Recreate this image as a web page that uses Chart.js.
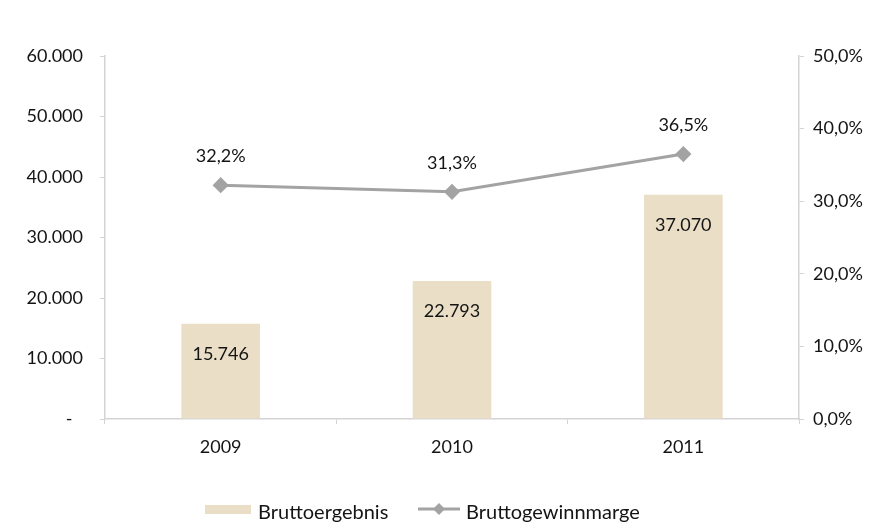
<!DOCTYPE html>
<html>
<head>
<meta charset="utf-8">
<script src="https://cdn.jsdelivr.net/npm/chart.js@4"></script>
<style>
  html, body { margin: 0; padding: 0; background: #ffffff; }
  #wrap { width: 872px; height: 523px; }
</style>
</head>
<body>
<div id="wrap"><canvas id="c" width="872" height="523"></canvas></div>
<script>
const categories = ['2009', '2010', '2011'];
const bruttoergebnis = [15746, 22793, 37070];
const bruttogewinnmarge = [0.322, 0.313, 0.365];
const leftTicks = [0, 10000, 20000, 30000, 40000, 50000, 60000];
const rightTicks = [0, 0.1, 0.2, 0.3, 0.4, 0.5];
const seriesNames = ['Bruttoergebnis', 'Bruttogewinnmarge'];

const FONT = 'Lato, "Open Sans", sans-serif';
const TEXT = '#141414';
const BAR = '#eadfc6';
const LINE = '#a3a3a3';
const AXIS = '#d4d4d4';

function fmtInt(v) {
  if (v === 0) return '-\u2007';
  return Math.round(v).toString().replace(/\B(?=(\d{3})+(?!\d))/g, '.');
}
function fmtPct(v) {
  return (v * 100).toFixed(1).replace('.', ',') + '%';
}

const labelPlugin = {
  id: 'labels',
  afterDatasetsDraw(chart) {
    const ctx = chart.ctx;
    ctx.save();
    ctx.font = '18px ' + FONT;
    ctx.fillStyle = TEXT;
    ctx.textAlign = 'center';
    ctx.textBaseline = 'middle';
    chart.getDatasetMeta(1).data.forEach((el, i) => {
      ctx.fillText(fmtInt(bruttoergebnis[i]), el.x, el.y + 30);
    });
    chart.getDatasetMeta(0).data.forEach((el, i) => {
      ctx.fillText(fmtPct(bruttogewinnmarge[i]), el.x, el.y - 29);
    });
    // legend
    const ly = 509;
    ctx.font = '20px ' + FONT;
    ctx.fillStyle = BAR;
    ctx.fillRect(205, ly - 4, 46, 9);
    ctx.fillStyle = TEXT;
    ctx.textAlign = 'left';
    ctx.fillText(seriesNames[0], 258, ly + 4);
    ctx.strokeStyle = LINE;
    ctx.lineWidth = 3;
    ctx.beginPath();
    ctx.moveTo(418, ly);
    ctx.lineTo(460, ly);
    ctx.stroke();
    ctx.fillStyle = LINE;
    ctx.beginPath();
    ctx.moveTo(439, ly - 6);
    ctx.lineTo(445, ly);
    ctx.lineTo(439, ly + 6);
    ctx.lineTo(433, ly);
    ctx.closePath();
    ctx.fill();
    ctx.fillStyle = TEXT;
    ctx.fillText(seriesNames[1], 466, ly + 4);
    ctx.restore();
  }
};

new Chart(document.getElementById('c'), {
  data: {
    labels: categories,
    datasets: [
      {
        type: 'line',
        label: seriesNames[1],
        data: bruttogewinnmarge,
        yAxisID: 'y1',
        borderColor: LINE,
        backgroundColor: LINE,
        borderWidth: 3,
        pointStyle: 'rectRot',
        pointRadius: 6,
        pointHoverRadius: 6,
        pointBackgroundColor: LINE,
        pointBorderColor: LINE,
        tension: 0,
        order: 0
      },
      {
        type: 'bar',
        label: seriesNames[0],
        data: bruttoergebnis,
        yAxisID: 'y',
        backgroundColor: BAR,
        borderWidth: 0,
        categoryPercentage: 1,
        barPercentage: 0.34,
        order: 1
      }
    ]
  },
  options: {
    responsive: false,
    animation: false,
    events: [],
    layout: { padding: { top: 56, bottom: 0, left: 0, right: 0 } },
    plugins: {
      legend: { display: false },
      tooltip: { enabled: false }
    },
    scales: {
      x: {
        type: 'category',
        offset: true,
        grid: { display: true, drawOnChartArea: false, drawTicks: true, tickLength: 5, color: AXIS, offset: true },
        border: { display: true, color: AXIS, width: 1.5 },
        ticks: { color: TEXT, font: { family: FONT, size: 18 }, padding: 12, maxRotation: 0 },
        afterFit(s) { s.height = 104; }
      },
      y: {
        position: 'left',
        min: 0, max: 60000,
        afterBuildTicks(s) { s.ticks = leftTicks.map(v => ({ value: v })); },
        grid: { drawOnChartArea: false, drawTicks: true, tickLength: 5, color: AXIS },
        border: { display: true, color: AXIS, width: 1.5 },
        ticks: { color: TEXT, font: { family: FONT, size: 18 }, padding: 17, callback: v => fmtInt(v) },
        afterFit(s) { s.width = 105; }
      },
      y1: {
        position: 'right',
        min: 0, max: 0.5,
        afterBuildTicks(s) { s.ticks = rightTicks.map(v => ({ value: v })); },
        grid: { drawOnChartArea: false, drawTicks: true, tickLength: 5, color: AXIS },
        border: { display: true, color: AXIS, width: 1.5 },
        ticks: { color: TEXT, font: { family: FONT, size: 18 }, padding: 9, callback: v => fmtPct(v) },
        afterFit(s) { s.width = 73; }
      }
    }
  },
  plugins: [labelPlugin]
});
</script>
</body>
</html>
